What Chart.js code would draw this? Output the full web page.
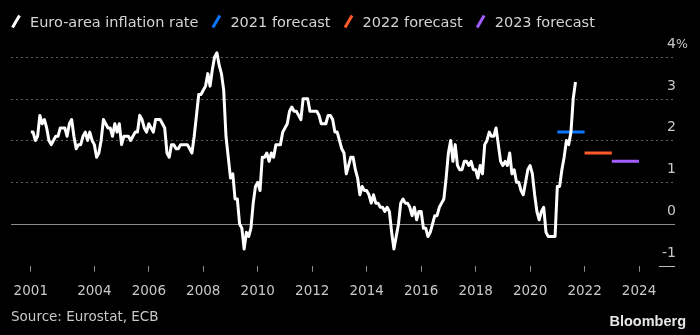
<!DOCTYPE html>
<html>
<head>
<meta charset="utf-8">
<script src="https://cdn.jsdelivr.net/npm/chart.js@4.4.0/dist/chart.umd.min.js"></script>
<style>
  html, body { margin: 0; padding: 0; background: #000; }
</style>
</head>
<body>
<canvas id="chart" width="700" height="335"></canvas>
<script>
// monthly euro-area HICP, Sep 2001 .. Sep 2021
const startYear = 2001;
const startMonth = 9;
const inflation = [
  2.2, 2.2, 2.0, 2.1,
  2.6, 2.4, 2.5, 2.3, 2.0, 1.9, 2.0, 2.1, 2.1, 2.3, 2.3, 2.3,
  2.1, 2.4, 2.5, 2.1, 1.8, 1.9, 1.9, 2.1, 2.2, 2.0, 2.2, 2.0,
  1.9, 1.6, 1.7, 2.0, 2.5, 2.4, 2.3, 2.3, 2.1, 2.4, 2.2, 2.4,
  1.9, 2.1, 2.1, 2.1, 2.0, 2.1, 2.2, 2.2, 2.6, 2.5, 2.3, 2.2,
  2.4, 2.3, 2.2, 2.5, 2.5, 2.5, 2.4, 2.3, 1.7, 1.6, 1.9, 1.9,
  1.8, 1.8, 1.9, 1.9, 1.9, 1.9, 1.8, 1.7, 2.1, 2.6, 3.1, 3.1,
  3.2, 3.3, 3.6, 3.3, 3.7, 4.0, 4.1, 3.8, 3.6, 3.2, 2.1, 1.6,
  1.1, 1.2, 0.6, 0.6, 0.0, -0.1, -0.6, -0.2, -0.3, -0.1, 0.5, 0.9,
  1.0, 0.8, 1.6, 1.6, 1.7, 1.5, 1.7, 1.6, 1.9, 1.9, 1.9, 2.2,
  2.3, 2.4, 2.7, 2.8, 2.7, 2.7, 2.6, 2.5, 3.0, 3.0, 3.0, 2.7,
  2.7, 2.7, 2.7, 2.6, 2.4, 2.4, 2.4, 2.6, 2.6, 2.5, 2.2, 2.2,
  2.0, 1.8, 1.7, 1.2, 1.4, 1.6, 1.6, 1.3, 1.1, 0.7, 0.9, 0.8,
  0.8, 0.7, 0.5, 0.7, 0.5, 0.5, 0.4, 0.4, 0.3, 0.4, 0.3, -0.2,
  -0.6, -0.3, 0.0, 0.5, 0.6, 0.5, 0.5, 0.4, 0.2, 0.4, 0.1, 0.3,
  0.3, -0.1, -0.1, -0.3, -0.2, 0.0, 0.2, 0.2, 0.4, 0.5, 0.6, 1.1,
  1.7, 2.0, 1.5, 1.9, 1.4, 1.3, 1.3, 1.5, 1.5, 1.4, 1.5, 1.3,
  1.3, 1.1, 1.4, 1.2, 1.9, 2.0, 2.2, 2.1, 2.1, 2.3, 1.9, 1.5,
  1.4, 1.5, 1.4, 1.7, 1.2, 1.3, 1.0, 1.0, 0.8, 0.7, 1.0, 1.3,
  1.4, 1.2, 0.7, 0.3, 0.1, 0.3, 0.4, -0.2, -0.3, -0.3, -0.3, -0.3,
  0.9, 0.9, 1.3, 1.6, 2.0, 1.9, 2.2, 3.0, 3.4
];

// ECB projections, one value per calendar year
const forecastYears = [2021, 2022, 2023];
const forecastValues = [2.2, 1.7, 1.5];
const forecastColors = ['#0a78ff', '#ff5a28', '#a35cff'];

const xTickYears = [2001, 2004, 2006, 2008, 2010, 2012, 2014, 2016, 2018, 2020, 2022, 2024];
const xTickLabels = ['2001', '2004', '2006', '2008', '2010', '2012', '2014', '2016', '2018', '2020', '2022', '2024'];
const yTicks = [-1, 0, 1, 2, 3, 4];

const dataStart = startYear + (startMonth - 1) / 12;
const inflationPoints = inflation.map((v, i) => ({ x: dataStart + i / 12, y: v }));

const datasets = [{
  label: 'Euro-area inflation rate',
  data: inflationPoints,
  borderColor: '#ffffff',
  borderWidth: 3,
  borderJoinStyle: 'round',
  pointRadius: 0
}];
forecastYears.forEach((yr, i) => {
  datasets.push({
    label: yr + ' forecast',
    data: [{ x: yr, y: forecastValues[i] }, { x: yr + 1, y: forecastValues[i] }],
    borderColor: forecastColors[i],
    borderWidth: 3,
    pointRadius: 0
  });
});

const FONT = '"DejaVu Sans", sans-serif';

const decorations = {
  id: 'decorations',
  beforeDraw(chart) {
    const ctx = chart.ctx;
    ctx.save();
    ctx.fillStyle = '#000';
    ctx.fillRect(0, 0, chart.width, chart.height);
    ctx.restore();
  },
  beforeDatasetsDraw(chart) {
    const { ctx, chartArea } = chart;
    const y = chart.scales.y;
    ctx.save();
    yTicks.forEach(t => {
      const py = Math.round(y.getPixelForValue(t)) + 0.5;
      ctx.beginPath();
      if (t === 0) {
        ctx.strokeStyle = '#8c8c8c';
        ctx.setLineDash([]);
        ctx.moveTo(chartArea.left, py);
        ctx.lineTo(chartArea.right, py);
      } else if (t === -1) {
        ctx.strokeStyle = '#bdbdbd';
        ctx.setLineDash([]);
        ctx.moveTo(chartArea.right - 16, py);
        ctx.lineTo(chartArea.right, py);
      } else {
        ctx.strokeStyle = '#5c5c5c';
        ctx.setLineDash([2, 3]);
        ctx.moveTo(chartArea.left, py);
        ctx.lineTo(chartArea.right, py);
      }
      ctx.lineWidth = 1;
      ctx.stroke();

      // labels sit above their gridline, right-aligned
      ctx.setLineDash([]);
      ctx.fillStyle = '#c8c8c8';
      ctx.font = '14px ' + FONT;
      ctx.textAlign = 'right';
      ctx.textBaseline = 'alphabetic';
      ctx.fillText(String(t), chartArea.right + 1, py - 10);
      if (t === yTicks[yTicks.length - 1]) {
        ctx.textAlign = 'left';
        ctx.font = '12.5px ' + FONT;
        ctx.fillText('%', chartArea.right + 1, py - 10);
      }
    });
    ctx.restore();
  },
  afterDraw(chart) {
    const ctx = chart.ctx;
    ctx.save();
    // legend
    ctx.font = '14.5px ' + FONT;
    ctx.textBaseline = 'alphabetic';
    ctx.textAlign = 'left';
    let cx = 16;
    const cy = 21.5;
    chart.data.datasets.forEach(ds => {
      ctx.strokeStyle = ds.borderColor;
      ctx.lineWidth = 3;
      ctx.beginPath();
      ctx.moveTo(cx - 3.5, cy + 6);
      ctx.lineTo(cx + 3.5, cy - 6);
      ctx.stroke();
      const tx = cx + 14;
      ctx.fillStyle = '#d4d4d4';
      ctx.fillText(ds.label, tx, 26.7);
      cx = tx + ctx.measureText(ds.label).width + 18;
    });

    // source + logo
    ctx.fillStyle = '#c8c8c8';
    ctx.font = '13.5px ' + FONT;
    ctx.fillText('Source: Eurostat, ECB', 11, 321);
    ctx.fillStyle = '#e6e6e6';
    ctx.font = 'bold 14.5px "Liberation Sans", Arial, sans-serif';
    ctx.textAlign = 'right';
    ctx.fillText('Bloomberg', 686, 326);
    ctx.restore();
  }
};

new Chart(document.getElementById('chart').getContext('2d'), {
  type: 'line',
  data: { datasets },
  plugins: [decorations],
  options: {
    responsive: false,
    animation: false,
    layout: { padding: { left: 11, right: 25, top: 36, bottom: 23 } },
    plugins: {
      legend: { display: false },
      tooltip: { enabled: false }
    },
    scales: {
      x: {
        type: 'linear',
        min: 2000.94,
        max: 2025.32,
        afterBuildTicks: scale => {
          scale.ticks = xTickYears.map(yr => ({ value: Math.max(yr, dataStart) }));
        },
        grid: {
          drawOnChartArea: false,
          drawTicks: true,
          tickLength: 6,
          color: '#8c8c8c'
        },
        border: { display: false },
        ticks: {
          autoSkip: false,
          maxRotation: 0,
          padding: 12,
          color: '#c8c8c8',
          font: { family: FONT, size: 13.5 },
          callback: (value, index) => xTickLabels[index]
        }
      },
      y: {
        display: false,
        min: -1,
        max: 4.5
      }
    }
  }
});
</script>
</body>
</html>
